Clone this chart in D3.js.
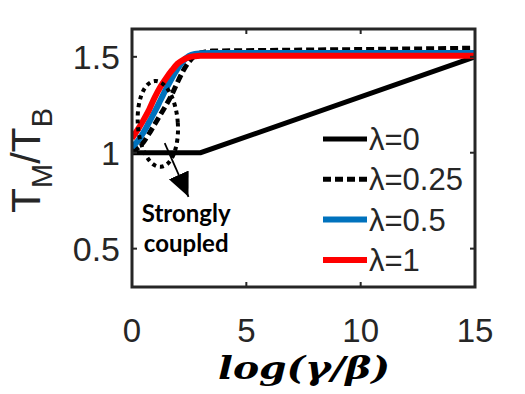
<!DOCTYPE html>
<html>
<head>
<meta charset="utf-8">
<script src="https://cdn.jsdelivr.net/npm/d3@7"></script>
<style>
  body { margin: 0; background: #fff; }
  svg text { font-family: "Liberation Sans", Arial, sans-serif; fill: #262626; }
</style>
</head>
<body>
<div id="chart"></div>
<script>
// x grid shared by the smooth curves
var xGrid = [0, 0.25, 0.5, 0.75, 1, 1.25, 1.5, 1.75, 2, 2.25, 2.5, 2.75, 3, 3.5, 5, 7.5, 10, 12.5, 15];
// lambda = 0 (piecewise)
var blackX = [0, 3, 15];
var blackY = [1, 1, 1.5];
// lambda = 0.25, 0.5, 1
var dashY = [1.005, 1.025, 1.055, 1.10, 1.15, 1.20, 1.25, 1.305, 1.37, 1.43, 1.475, 1.505, 1.52, 1.53, 1.532, 1.535, 1.538, 1.541, 1.545];
var blueY = [1.03, 1.06, 1.105, 1.16, 1.215, 1.275, 1.335, 1.39, 1.44, 1.48, 1.505, 1.515, 1.518, 1.52, 1.52, 1.52, 1.52, 1.52, 1.52];
var redY  = [1.075, 1.12, 1.17, 1.225, 1.29, 1.345, 1.39, 1.43, 1.465, 1.485, 1.498, 1.503, 1.505, 1.505, 1.505, 1.505, 1.505, 1.505, 1.505];

var legendLabels = ["\u03bb=0", "\u03bb=0.25", "\u03bb=0.5", "\u03bb=1"];
var xTicks = [0, 5, 10, 15];
var yTicks = [0.5, 1, 1.5];

var width = 525, height = 394;
var margin = {top: 29, right: 50, bottom: 107, left: 132};
var w = width - margin.left - margin.right;
var h = height - margin.top - margin.bottom;

var svg = d3.select("#chart").append("svg")
  .attr("width", width)
  .attr("height", height);

var g = svg.append("g")
  .attr("transform", "translate(" + margin.left + "," + margin.top + ")");

var x = d3.scaleLinear().domain([0, 15]).range([0, w]);
var y = d3.scaleLinear().domain([0.3, 1.645]).range([h, 0]);

g.append("clipPath").attr("id", "clip")
  .append("rect").attr("width", w).attr("height", h);

var series = [
  {pts: d3.zip(blackX, blackY), color: "#000", width: 5, dash: null},
  {pts: d3.zip(xGrid, dashY), color: "#000", width: 5, dash: "8,4"},
  {pts: d3.zip(xGrid, blueY), color: "#0072BD", width: 6, dash: null},
  {pts: d3.zip(xGrid, redY), color: "#FF0000", width: 6, dash: null}
];

var plot = g.append("g").attr("clip-path", "url(#clip)");
series.forEach(function(s) {
  plot.append("path")
    .datum(s.pts)
    .attr("d", d3.line().x(function(d) { return x(d[0]); }).y(function(d) { return y(d[1]); })
      .curve(s.pts.length > 3 ? d3.curveMonotoneX : d3.curveLinear))
    .attr("fill", "none")
    .attr("stroke", s.color)
    .attr("stroke-width", s.width)
    .attr("stroke-dasharray", s.dash);
});

// "strongly coupled" ellipse + arrow
g.append("ellipse")
  .attr("transform", "translate(" + x(1.13) + "," + y(1.15) + ") rotate(-4)")
  .attr("rx", 20).attr("ry", 43)
  .attr("fill", "none")
  .attr("stroke", "#000")
  .attr("stroke-width", 4)
  .attr("stroke-dasharray", "4,4");

svg.append("defs").append("marker")
  .attr("id", "arrow")
  .attr("viewBox", "0 0 10 10")
  .attr("refX", 10).attr("refY", 5)
  .attr("markerWidth", 24).attr("markerHeight", 24)
  .attr("markerUnits", "userSpaceOnUse")
  .attr("orient", "auto")
  .append("path").attr("d", "M0,0.5L10,5L0,9.5Z").attr("fill", "#000");

g.append("line")
  .attr("x1", x(1.43)).attr("y1", y(1.05))
  .attr("x2", x(2.47)).attr("y2", y(0.77))
  .attr("stroke", "#000").attr("stroke-width", 1.8)
  .attr("marker-end", "url(#arrow)");

var note = g.append("text")
  .attr("text-anchor", "middle")
  .style("font-family", "Lato, sans-serif")
  .style("font-weight", "bold")
  .style("font-size", "24px")
  .style("fill", "#000");
note.append("tspan").attr("x", x(2.37)).attr("y", y(0.64)).text("Strongly");
note.append("tspan").attr("x", x(2.37)).attr("y", y(0.485)).text("coupled");

// frame and ticks (box on)
g.append("rect")
  .attr("width", w).attr("height", h)
  .attr("fill", "none").attr("stroke", "#262626").attr("stroke-width", 3);

var tickLen = 5;
xTicks.forEach(function(t) {
  g.append("line").attr("x1", x(t)).attr("x2", x(t)).attr("y1", h).attr("y2", h - tickLen)
    .attr("stroke", "#262626").attr("stroke-width", 2);
  g.append("line").attr("x1", x(t)).attr("x2", x(t)).attr("y1", 0).attr("y2", tickLen)
    .attr("stroke", "#262626").attr("stroke-width", 2);
  g.append("text").attr("x", x(t)).attr("y", h + 55)
    .attr("text-anchor", "middle").style("font-size", "33px").text(t);
});
yTicks.forEach(function(t) {
  g.append("line").attr("x1", 0).attr("x2", tickLen).attr("y1", y(t)).attr("y2", y(t))
    .attr("stroke", "#262626").attr("stroke-width", 2);
  g.append("line").attr("x1", w).attr("x2", w - tickLen).attr("y1", y(t)).attr("y2", y(t))
    .attr("stroke", "#262626").attr("stroke-width", 2);
  g.append("text").attr("x", -12).attr("y", y(t)).attr("dy", "0.36em")
    .attr("text-anchor", "end").style("font-size", "34px").text(t);
});

// legend
var legend = g.append("g").attr("transform", "translate(" + (w - 152) + "," + 110 + ")");
legendLabels.forEach(function(lab, i) {
  var s = series[i];
  var ly = i * 40.3;
  legend.append("line")
    .attr("x1", 0).attr("x2", 44).attr("y1", ly).attr("y2", ly)
    .attr("stroke", s.color).attr("stroke-width", s.width)
    .attr("stroke-dasharray", s.dash);
  legend.append("text")
    .attr("x", 46).attr("y", ly).attr("dy", "0.36em")
    .style("font-size", "31px").text(lab);
});

// axis labels
svg.append("text")
  .attr("x", 304).attr("y", 379)
  .attr("text-anchor", "middle")
  .style("font-family", "'DejaVu Serif', serif")
  .style("font-style", "italic")
  .style("font-weight", "bold")
  .style("font-size", "32px")
  .style("fill", "#000")
  .attr("textLength", 172)
  .attr("lengthAdjust", "spacingAndGlyphs")
  .text("log(\u03b3/\u03b2)");

var yl = svg.append("text")
  .attr("transform", "translate(40,213) rotate(-90)")
  .style("font-size", "41px");
yl.append("tspan").text("T");
yl.append("tspan").attr("dy", 12).style("font-size", "29px").text("M");
yl.append("tspan").attr("dy", -12).text("/T");
yl.append("tspan").attr("dy", 12).style("font-size", "29px").text("B");
</script>
</body>
</html>
